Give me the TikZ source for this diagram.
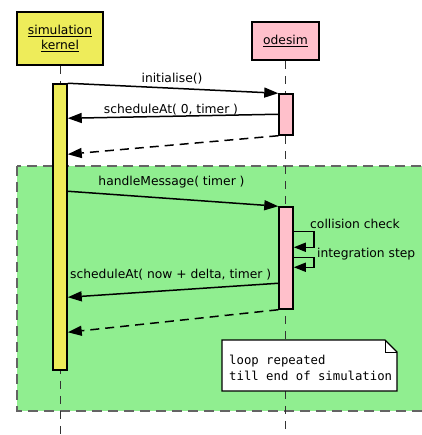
\documentclass[tikz,border=0pt]{standalone}
\usepackage{fontspec}
\setmainfont{DejaVu Sans}
\newfontfamily\notemono{DejaVu Sans Mono}
\usetikzlibrary{arrows.meta}
\definecolor{kyellow}{RGB}{238,236,90}
\definecolor{opink}{RGB}{255,192,203}
\definecolor{lgreen}{RGB}{144,238,144}
\definecolor{bordergray}{RGB}{100,100,100}
\begin{document}
\begin{tikzpicture}[x=1pt,y=-1pt,
  font=\fontsize{12.3}{14}\selectfont,
  objbox/.style={draw=black,line width=1.8pt,align=center,inner sep=0pt},
  actbar/.style={draw=black,line width=1.5pt,minimum width=14pt,inner sep=0pt},
  lifeline/.style={draw=black!80,line width=1pt,dash pattern=on 8pt off 7pt},
  msg/.style={draw=black,line width=1.5pt,-{Triangle[length=14pt,width=10pt]}},
  retmsg/.style={msg,dash pattern=on 9pt off 6pt},
  selfmsg/.style={draw=black,line width=1.5pt,-{Triangle[length=12pt,width=9pt]}},
  lbl/.style={anchor=base,inner sep=0pt},
  loopbox/.style={fill=lgreen,draw=bordergray,line width=1.2pt,dash pattern=on 10pt off 6pt}]
\useasboundingbox (0,0) rectangle (421,435);
% loop fragment
\path[loopbox] (17,166) rectangle (430,411);
% objects
\node[objbox,fill=kyellow,minimum width=86pt,minimum height=53pt] (kernel) at (60,38.5)
  {\underline{simulation}\\[1pt]\underline{kernel}};
\node[objbox,fill=opink,minimum width=67pt,minimum height=38pt] (odesim) at (285.5,41)
  {\underline{odesim}};
% lifelines
\coordinate (kend) at (60,435);
\coordinate (oend) at (285.5,430);
\draw[lifeline] (kernel.south) -- (kend);
\draw[lifeline] (odesim.south) -- (oend);
% activations
\node[actbar,fill=kyellow,minimum height=286pt] (ka) at (60,227) {};
\node[actbar,fill=opink,minimum height=41pt] (oa1) at (286,114.5) {};
\node[actbar,fill=opink,minimum height=102pt] (oa2) at (286,258) {};
% messages
\draw[msg] (ka.north east) -- (oa1.north west);
\node[lbl] (linit) at (172,83) {initialise()};
\draw[msg] ([yshift=-21pt]oa1.north west) -- ([yshift=-35pt]ka.north east);
\node[lbl] (lsch0) at (171,114) {scheduleAt( 0, timer )};
\draw[retmsg] (oa1.south west) -- ([yshift=-71pt]ka.north east);
\draw[msg] ([yshift=-108pt]ka.north east) -- (oa2.north west);
\node[lbl] (lhandle) at (171.5,186) {handleMessage( timer )};
\draw[selfmsg] ([yshift=-25pt]oa2.north east) -- ++(20,0) -- ++(0,16) -- ([yshift=-41pt]oa2.north east);
\node[lbl,anchor=base west] (lcoll) at (310,228) {collision check};
\draw[selfmsg] ([yshift=-51pt]oa2.north east) -- ++(20,0) -- ++(0,10) -- ([yshift=-61pt]oa2.north east);
\node[lbl,anchor=base west] (linteg) at (317,257) {integration step};
\draw[msg] ([yshift=-77pt]oa2.north west) -- ([yshift=-214pt]ka.north east);
\node[lbl,anchor=base west] (lschN) at (70,278) {scheduleAt( now + delta, timer )};
\draw[retmsg] (oa2.south west) -- ([yshift=-249pt]ka.north east);
% note
\draw[fill=white,line width=1.3pt] (222,340) -- (385,340) -- (397,352) -- (397,391) -- (222,391) -- cycle;
\draw[line width=1pt] (385,340) -- (385,352) -- (397,352);
\node[anchor=base west,inner sep=0pt,align=left,font=\notemono\fontsize{12.3}{16}\selectfont] (note) at (229,380)
  {loop repeated\\till end of simulation};
\end{tikzpicture}
\end{document}
